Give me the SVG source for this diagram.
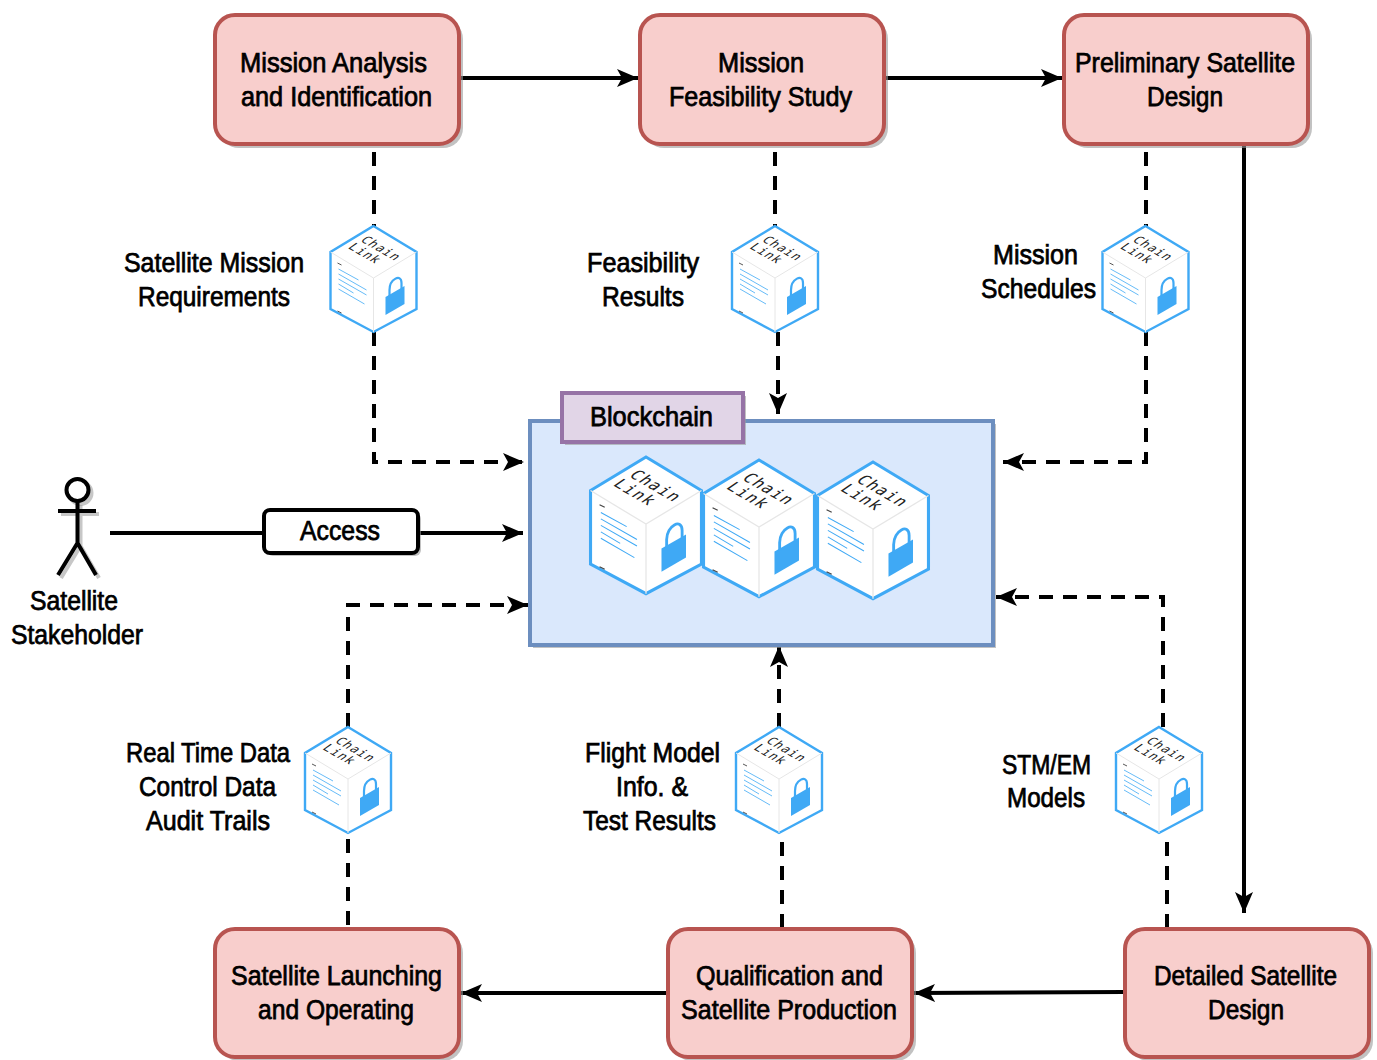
<svg xmlns="http://www.w3.org/2000/svg" xmlns:xlink="http://www.w3.org/1999/xlink" width="1377" height="1060" viewBox="0 0 1377 1060">
<style>
text{font-family:"Liberation Sans",Arial,sans-serif;font-size:27px;fill:#000;stroke:#000;stroke-width:.75px}
.cl{font-family:"DejaVu Sans Mono",monospace;font-size:12px;stroke:none;fill:#222;letter-spacing:1px;text-anchor:middle}
.task{fill:#f8cecc;stroke:#b85450;stroke-width:4}
.shadow{fill:#999;fill-opacity:.6;stroke:none}
.solid,.dash{fill:none;stroke:#000;stroke-width:4}
.dash{stroke-dasharray:14 10}
.arrow{marker-end:url(#ah)}
.fr{fill:#fff;stroke:#3fa9f5;stroke-width:2.4;stroke-linejoin:miter}
.in{fill:none;stroke:#e6e6e6;stroke-width:1}
.tl{fill:none;stroke:#3fa9f5;stroke-width:.8}
.lk{fill:#3fa9f5}
.lks{fill:none;stroke:#3fa9f5;stroke-width:2.2}
.sm{fill:none;stroke:#444;stroke-width:.9}
</style>
<defs>
<marker id="ah" markerUnits="userSpaceOnUse" markerWidth="24" markerHeight="22" refX="21" refY="11" orient="auto"><path d="M0,2 L21,11 L0,20 L5,11 Z" fill="#000"/></marker>
<g id="cube">
<path class="fr" d="M0,0 L43,26 V83 L0,106 L-43,83 V26 Z"/>
<path class="in" d="M-43,26 L0,52 L43,26 M0,52 V106"/>
<path class="sm" d="M-36,37 l4,2 M-36,85 l4,2"/>
<path class="tl" d="M-35,43 L-15,54 M-35,48 L-7,64 M-35,53 L-7,69 M-35,58 L-20,67 M-35,63 L-9,78"/>
<path class="lk" d="M12,71 L31,60 V78 L12,89 Z"/>
<path class="lks" d="M16,70 V64 C16,53 28,47 28,57 V63"/>
</g>
</defs>

<g id="connectors">
<path class="solid arrow" d="M460,78 H638"/>
<path class="solid arrow" d="M885,78 H1062"/>
<path class="solid arrow" d="M1244,144 V913"/>
<path class="solid arrow" d="M1124,992 L914,993"/>
<path class="solid arrow" d="M666,993 H461"/>
<path class="dash" d="M374,152 V226"/>
<path class="dash arrow" d="M374,332 V462 H524"/>
<path class="dash" d="M775,152 V226"/>
<path class="dash arrow" d="M778,332 V414"/>
<path class="dash" d="M1146,152 V226"/>
<path class="dash arrow" d="M1146,332 V462 H1003"/>
<path class="solid" d="M110,533 H264"/>
<path class="solid arrow" d="M418,533 H523"/>
<path class="dash" d="M348,925 V832"/>
<path class="dash arrow" d="M348,727 V605 H528"/>
<path class="dash" d="M782,928 V833"/>
<path class="dash arrow" d="M779,727 V646"/>
<path class="dash" d="M1167,928 V833"/>
<path class="dash arrow" d="M1163,727 V597 H996"/>
</g>

<g id="mission-analysis">
<rect class="shadow" x="219" y="19" width="244" height="129" rx="20"/>
<rect class="task" x="215" y="15" width="244" height="129" rx="20"/>
<text x="240" y="72" textLength="187" lengthAdjust="spacingAndGlyphs">Mission Analysis</text>
<text x="241" y="106" textLength="191" lengthAdjust="spacingAndGlyphs">and Identification</text>
</g>
<g id="feasibility-study">
<rect class="shadow" x="644" y="19" width="244" height="129" rx="20"/>
<rect class="task" x="640" y="15" width="244" height="129" rx="20"/>
<text x="718" y="72" textLength="86" lengthAdjust="spacingAndGlyphs">Mission</text>
<text x="669" y="106" textLength="183" lengthAdjust="spacingAndGlyphs">Feasibility Study</text>
</g>
<g id="preliminary-design">
<rect class="shadow" x="1068" y="19" width="244" height="129" rx="20"/>
<rect class="task" x="1064" y="15" width="244" height="129" rx="20"/>
<text x="1075" y="72" textLength="220" lengthAdjust="spacingAndGlyphs">Preliminary Satellite</text>
<text x="1147" y="106" textLength="76" lengthAdjust="spacingAndGlyphs">Design</text>
</g>
<g id="satellite-launching">
<rect class="shadow" x="219" y="933" width="244" height="128" rx="20"/>
<rect class="task" x="215" y="929" width="244" height="128" rx="20"/>
<text x="231" y="985" textLength="211" lengthAdjust="spacingAndGlyphs">Satellite Launching</text>
<text x="258" y="1019" textLength="156" lengthAdjust="spacingAndGlyphs">and Operating</text>
</g>
<g id="qualification-production">
<rect class="shadow" x="672" y="933" width="244" height="128" rx="20"/>
<rect class="task" x="668" y="929" width="244" height="128" rx="20"/>
<text x="696" y="985" textLength="187" lengthAdjust="spacingAndGlyphs">Qualification and</text>
<text x="681" y="1019" textLength="216" lengthAdjust="spacingAndGlyphs">Satellite Production</text>
</g>
<g id="detailed-design">
<rect class="shadow" x="1129" y="933" width="244" height="128" rx="20"/>
<rect class="task" x="1125" y="929" width="244" height="128" rx="20"/>
<text x="1154" y="985" textLength="183" lengthAdjust="spacingAndGlyphs">Detailed Satellite</text>
<text x="1208" y="1019" textLength="76" lengthAdjust="spacingAndGlyphs">Design</text>
</g>

<g id="blockchain">
<rect class="shadow" x="533" y="424" width="463" height="224"/>
<rect x="530" y="421" width="463" height="224" fill="#dae8fc" stroke="#6c8ebf" stroke-width="4"/>
<rect class="shadow" x="565" y="396" width="181" height="49"/>
<rect x="562" y="393" width="181" height="49" fill="#e1d5e7" stroke="#9673a6" stroke-width="4"/>
<text x="590" y="426" textLength="123" lengthAdjust="spacingAndGlyphs">Blockchain</text>
</g>
<g id="chain-big-1" transform="translate(646,457) scale(1.29)"><use href="#cube"/><text class="cl" transform="translate(4,25) rotate(30) skewX(-25)">Chain</text><text class="cl" transform="translate(-12,30) rotate(30) skewX(-25)">Link</text></g>
<g id="chain-big-2" transform="translate(759,460) scale(1.29)"><use href="#cube"/><text class="cl" transform="translate(4,25) rotate(30) skewX(-25)">Chain</text><text class="cl" transform="translate(-12,30) rotate(30) skewX(-25)">Link</text></g>
<g id="chain-big-3" transform="translate(873,462) scale(1.29)"><use href="#cube"/><text class="cl" transform="translate(4,25) rotate(30) skewX(-25)">Chain</text><text class="cl" transform="translate(-12,30) rotate(30) skewX(-25)">Link</text></g>

<g id="chain-requirements" transform="translate(373.5,226)"><use href="#cube"/><text class="cl" transform="translate(4,25) rotate(30) skewX(-25)">Chain</text><text class="cl" transform="translate(-12,30) rotate(30) skewX(-25)">Link</text></g>
<g id="chain-feasibility" transform="translate(775,226)"><use href="#cube"/><text class="cl" transform="translate(4,25) rotate(30) skewX(-25)">Chain</text><text class="cl" transform="translate(-12,30) rotate(30) skewX(-25)">Link</text></g>
<g id="chain-schedules" transform="translate(1145.5,226)"><use href="#cube"/><text class="cl" transform="translate(4,25) rotate(30) skewX(-25)">Chain</text><text class="cl" transform="translate(-12,30) rotate(30) skewX(-25)">Link</text></g>
<g id="chain-realtime" transform="translate(348,727)"><use href="#cube"/><text class="cl" transform="translate(4,25) rotate(30) skewX(-25)">Chain</text><text class="cl" transform="translate(-12,30) rotate(30) skewX(-25)">Link</text></g>
<g id="chain-flight" transform="translate(779,727)"><use href="#cube"/><text class="cl" transform="translate(4,25) rotate(30) skewX(-25)">Chain</text><text class="cl" transform="translate(-12,30) rotate(30) skewX(-25)">Link</text></g>
<g id="chain-stm" transform="translate(1159,727)"><use href="#cube"/><text class="cl" transform="translate(4,25) rotate(30) skewX(-25)">Chain</text><text class="cl" transform="translate(-12,30) rotate(30) skewX(-25)">Link</text></g>

<g id="label-requirements">
<text x="124" y="272" textLength="180" lengthAdjust="spacingAndGlyphs">Satellite Mission</text>
<text x="138" y="306" textLength="152" lengthAdjust="spacingAndGlyphs">Requirements</text>
</g>
<g id="label-feasibility">
<text x="587" y="272" textLength="112" lengthAdjust="spacingAndGlyphs">Feasibility</text>
<text x="602" y="306" textLength="82" lengthAdjust="spacingAndGlyphs">Results</text>
</g>
<g id="label-schedules">
<text x="993" y="264" textLength="85" lengthAdjust="spacingAndGlyphs">Mission</text>
<text x="981" y="298" textLength="115" lengthAdjust="spacingAndGlyphs">Schedules</text>
</g>
<g id="label-realtime">
<text x="126" y="762" textLength="164" lengthAdjust="spacingAndGlyphs">Real Time Data</text>
<text x="139" y="796" textLength="137" lengthAdjust="spacingAndGlyphs">Control Data</text>
<text x="146" y="830" textLength="124" lengthAdjust="spacingAndGlyphs">Audit Trails</text>
</g>
<g id="label-flight">
<text x="585" y="762" textLength="135" lengthAdjust="spacingAndGlyphs">Flight Model</text>
<text x="616" y="796" textLength="72" lengthAdjust="spacingAndGlyphs">Info. &amp;</text>
<text x="583" y="830" textLength="133" lengthAdjust="spacingAndGlyphs">Test Results</text>
</g>
<g id="label-stm">
<text x="1002" y="774" textLength="89" lengthAdjust="spacingAndGlyphs">STM/EM</text>
<text x="1007" y="807" textLength="78" lengthAdjust="spacingAndGlyphs">Models</text>
</g>

<g id="access">
<rect class="shadow" x="267" y="513" width="154" height="43" rx="6"/>
<rect x="264" y="510" width="154" height="43" rx="6" fill="#fff" stroke="#000" stroke-width="4"/>
<text x="300" y="540" textLength="80" lengthAdjust="spacingAndGlyphs">Access</text>
</g>
<g id="stakeholder">
<g fill="none" stroke="#999" stroke-opacity=".55" stroke-width="4" transform="translate(3,3)"><circle cx="77.500" cy="490" r="11"/><path d="M58,511 H96 M77.500,502 V543 M77.500,543 L58,575 M77.500,543 L96,575"/></g>
<g fill="none" stroke="#000" stroke-width="4"><circle cx="77.500" cy="490" r="11" fill="#fff"/><path d="M58,511 H96 M77.500,502 V543 M77.500,543 L58,575 M77.500,543 L96,575"/></g>
<text x="30" y="610" textLength="88" lengthAdjust="spacingAndGlyphs">Satellite</text>
<text x="11" y="644" textLength="132" lengthAdjust="spacingAndGlyphs">Stakeholder</text>
</g>
</svg>
